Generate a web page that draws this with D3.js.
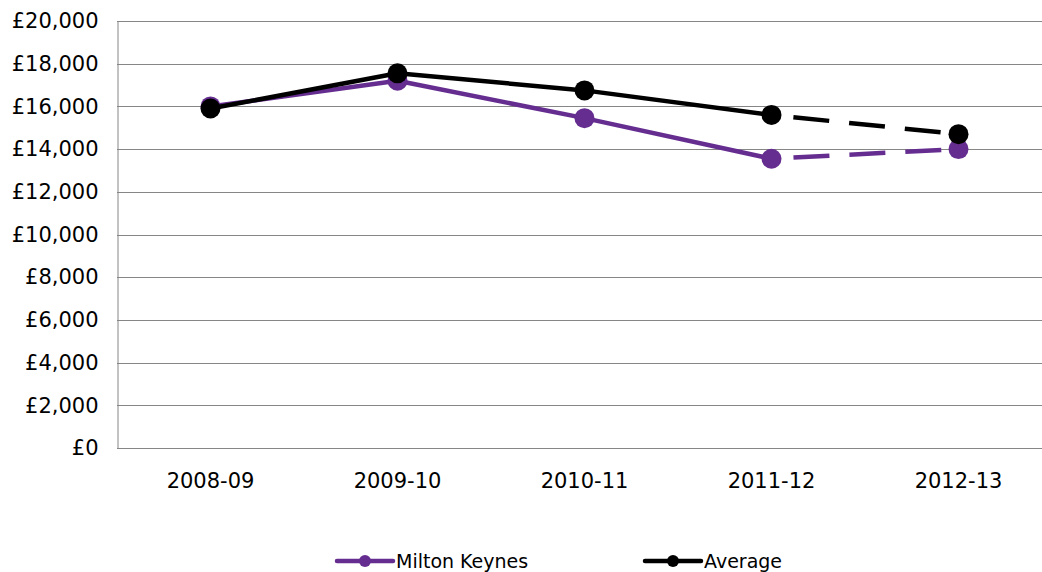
<!DOCTYPE html>
<html>
<head>
<meta charset="utf-8">
<script src="https://cdn.jsdelivr.net/npm/d3@7"></script>
<style>
  body { margin: 0; background: #fff; }
  text { font-family: "DejaVu Sans", Verdana, sans-serif; fill: #000; }
</style>
</head>
<body>
<div class="chart"></div>
<script>
const width = 1042;
const height = 572;
const margin = {top: 21, bottom: 124, left: 117, right: -10};

// data
const categories = ["2008-09", "2009-10", "2010-11", "2011-12", "2012-13"];
const mkValues = [16000, 17200, 15450, 13550, 14000];
const avgValues = [15900, 17550, 16750, 15600, 14700];
const yTicks = [0, 2000, 4000, 6000, 8000, 10000, 12000, 14000, 16000, 18000, 20000];
const dashedFrom = 3; // last segment is a dashed projection

const series = [
  {name: "Milton Keynes", values: mkValues, color: "#652D90"},
  {name: "Average", values: avgValues, color: "#000000"}
];

const svg = d3.select(".chart").append("svg")
  .attr("width", width)
  .attr("height", height);

const x = d3.scalePoint()
  .domain(categories)
  .range([margin.left, width - margin.right])
  .padding(0.5);

const y = d3.scaleLinear()
  .domain([0, 20000])
  .range([height - margin.bottom, margin.top]);

const fmt = d => "£" + d3.format(",")(d);

// gridlines
svg.append("g")
  .selectAll("line").data(yTicks)
  .enter().append("line")
  .attr("x1", margin.left)
  .attr("x2", width)
  .attr("y1", d => Math.round(y(d)) + 0.5)
  .attr("y2", d => Math.round(y(d)) + 0.5)
  .attr("stroke", "#868686")
  .attr("stroke-width", 1);

// y axis
const yAxis = svg.append("g")
  .attr("transform", `translate(${margin.left + 0.5},0)`)
  .call(d3.axisLeft(y).tickValues(yTicks).tickFormat(fmt).tickSize(0).tickPadding(19));
yAxis.select(".domain").attr("stroke", "#868686");
yAxis.selectAll("text").attr("font-size", 21).attr("font-family", "DejaVu Sans, Verdana, sans-serif");

// x axis labels
svg.append("g")
  .selectAll("text").data(categories)
  .enter().append("text")
  .attr("x", d => x(d))
  .attr("y", 488)
  .attr("text-anchor", "middle")
  .attr("font-size", 21)
  .text(d => d);

const line = d3.line()
  .x(d => x(d.cat))
  .y(d => y(d.v));

series.forEach(s => {
  const pts = s.values.map((v, i) => ({cat: categories[i], v: v}));
  const g = svg.append("g");
  g.append("path")
    .datum(pts.slice(0, dashedFrom + 1))
    .attr("d", line)
    .attr("fill", "none")
    .attr("stroke", s.color)
    .attr("stroke-width", 4.5)
    .attr("stroke-linejoin", "round");
  g.append("path")
    .datum(pts.slice(dashedFrom))
    .attr("d", line)
    .attr("fill", "none")
    .attr("stroke", s.color)
    .attr("stroke-width", 4.5)
    .attr("stroke-dasharray", "36,20")
    .attr("stroke-dashoffset", -22);
  g.selectAll("circle").data(pts)
    .enter().append("circle")
    .attr("cx", d => x(d.cat))
    .attr("cy", d => y(d.v))
    .attr("r", 10)
    .attr("fill", s.color);
});

// legend
const legendX = [337, 645];
const legend = svg.append("g")
  .selectAll("g").data(series)
  .enter().append("g")
  .attr("transform", (d, i) => `translate(${legendX[i]},561)`);
legend.append("line")
  .attr("x1", 0).attr("x2", 56)
  .attr("stroke", d => d.color)
  .attr("stroke-width", 4.5)
  .attr("stroke-linecap", "round");
legend.append("circle")
  .attr("cx", 28).attr("r", 6)
  .attr("fill", d => d.color);
legend.append("text")
  .attr("x", 59)
  .attr("y", 7)
  .attr("font-size", 19)
  .text(d => d.name);
</script>
</body>
</html>
